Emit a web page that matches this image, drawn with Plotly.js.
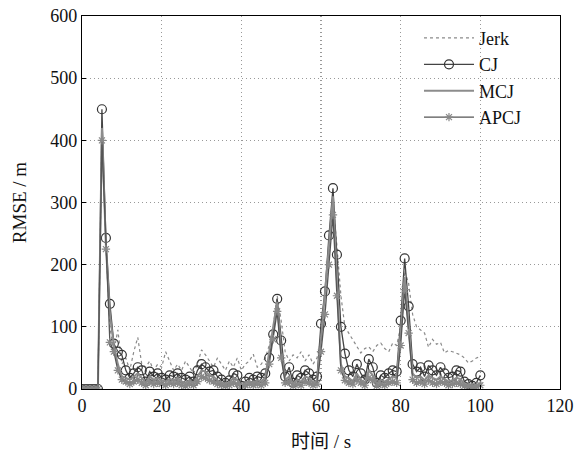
<!DOCTYPE html>
<html><head><meta charset="utf-8">
<script src="https://cdn.plot.ly/plotly-3.0.1.min.js"></script>
<style>body{margin:0;background:#fff}#c{width:578px;height:455px}</style>
</head><body><div id="c"></div>
<script>
const time = Array.from({length:101},(_,i)=>i);
const jerk = [0,0,0,0,0,420,230,100,60,95,40,50,30,60,83,40,35,45,30,40,35,60,45,30,40,30,45,35,25,40,63,55,45,35,50,40,30,45,35,50,30,40,45,56,35,40,50,70,100,150,110,60,45,55,50,60,45,55,40,50,80,150,230,300,230,150,100,90,80,70,58,65,68,60,70,74,65,60,74,70,100,190,170,120,100,95,90,67,80,72,75,58,62,60,58,55,50,42,45,50,52];
const cj = [0,0,0,0,0,450,243,137,73,60,55,30,18,25,35,30,12,28,20,25,18,15,22,20,25,18,15,20,12,30,40,35,28,30,20,15,10,14,25,22,5,12,18,15,20,18,25,50,88,145,78,20,35,10,22,18,30,25,15,20,105,157,247,323,216,100,57,30,20,40,25,15,48,35,10,22,18,25,30,28,110,210,133,40,28,35,20,38,30,22,35,25,18,20,30,28,12,8,5,10,22];
const mcj = [0,0,0,0,0,420,230,120,70,40,20,18,15,20,25,18,10,20,15,18,14,12,16,14,18,12,10,14,10,20,30,28,22,20,14,10,8,10,18,15,5,10,12,10,14,12,18,60,100,140,60,15,20,8,15,12,20,18,10,14,80,150,230,310,180,40,20,18,12,25,15,10,30,22,8,15,12,16,20,18,90,180,100,25,18,20,14,22,18,15,20,16,12,14,18,16,8,6,4,6,10];
const apcj = [0,0,0,0,0,400,225,75,60,30,15,12,8,12,15,10,6,12,8,10,8,6,10,8,10,6,5,8,6,12,20,18,14,12,8,6,5,6,10,8,3,6,8,6,8,6,10,40,80,125,50,10,12,5,8,6,12,10,6,8,60,120,200,280,150,30,14,10,8,15,10,6,18,14,5,8,6,10,12,10,70,160,90,15,10,12,8,14,10,8,12,10,6,8,10,8,5,4,3,4,6];
const xTicks = [0,20,40,60,80,100,120];
const yTicks = [0,100,200,300,400,500,600];

const traces = [
  {x:time,y:jerk,name:'Jerk',mode:'lines',line:{color:'#8a8a8a',width:1.2,dash:'dot'}},
  {x:time,y:cj,name:'CJ',mode:'lines+markers',line:{color:'#444',width:1.3},marker:{symbol:'circle-open',size:9,color:'#333',line:{width:1.2}}},
  {x:time,y:mcj,name:'MCJ',mode:'lines',line:{color:'#8c8c8c',width:2}},
  {x:time,y:apcj,name:'APCJ',mode:'lines+markers',line:{color:'#555',width:1.3},marker:{symbol:'asterisk-open',size:7,color:'#888',line:{width:1.2,color:'#888'}}}
];
const ax = {showline:true,mirror:true,linecolor:'#000',linewidth:1.2,ticks:'inside',ticklen:4,tickcolor:'#000',
  showgrid:true,gridcolor:'#999',griddash:'1px,3px',gridwidth:1.2,zeroline:false,
  tickfont:{family:'Liberation Serif, serif',size:18,color:'#111'}};
const layout = {
  width:578,height:455,margin:{l:82,r:18,t:16,b:66},
  paper_bgcolor:'#fff',plot_bgcolor:'#fff',showlegend:true,
  xaxis:Object.assign({},ax,{range:[0,120],tickvals:xTicks,title:{text:'时间 / s',standoff:20,font:{family:'Liberation Serif, Noto Sans CJK SC, serif',size:19,color:'#111'}}}),
  yaxis:Object.assign({},ax,{range:[0,600],tickvals:yTicks,title:{text:'RMSE / m',standoff:18,font:{family:'Liberation Serif, serif',size:19,color:'#111'}}}),
  legend:{x:0.705,y:0.99,xanchor:'left',yanchor:'top',bgcolor:'rgba(255,255,255,0)',itemwidth:50,tracegroupgap:0,
    font:{family:'Liberation Serif, serif',size:18,color:'#111'}}
};
Plotly.newPlot('c',traces,layout,{staticPlot:true,displayModeBar:false});
</script></body></html>
